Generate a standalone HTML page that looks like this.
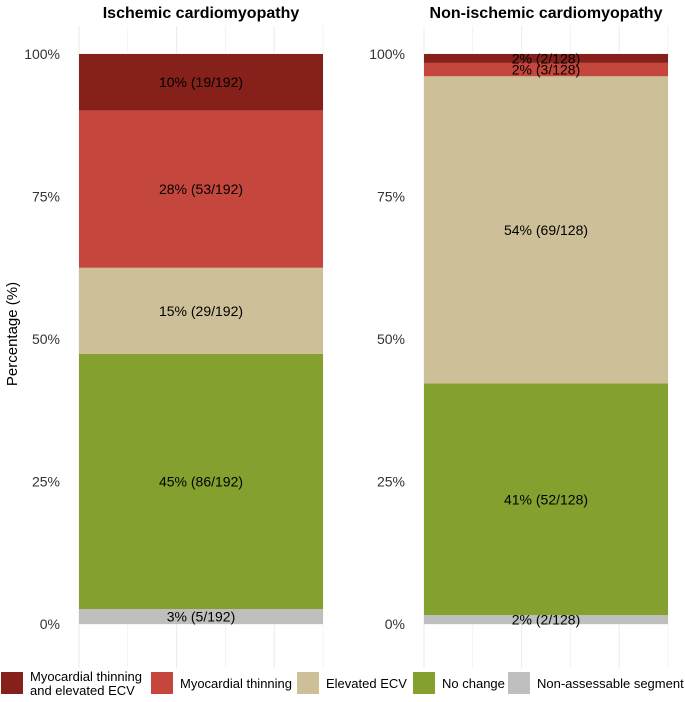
<!DOCTYPE html>
<html><head><meta charset="utf-8"><style>
body{margin:0;background:#fff;font-family:"Liberation Sans",sans-serif}
svg text{font-family:"Liberation Sans",sans-serif}
</style></head><body>
<svg id="chart" width="685" height="697">
<text x="6" y="0" transform="translate(17,340) rotate(-90)" text-anchor="middle" font-size="15" fill="#000">Percentage (%)</text>
<g id="panels"></g>
<g id="legend"></g>
</svg>
<script>
const panelTitles = ["Ischemic cardiomyopathy", "Non-ischemic cardiomyopathy"];
const categories = ["Non-assessable segment", "No change", "Elevated ECV", "Myocardial thinning", "Myocardial thinning and elevated ECV"];
const ischemicCounts = [5, 86, 29, 53, 19];
const nonIschemicCounts = [2, 52, 69, 3, 2];
const yTicks = [0, 25, 50, 75, 100];
const yTickLabels = ["0%", "25%", "50%", "75%", "100%"];
const colors = ["#bfbfbf", "#84a12f", "#cdbf97", "#c5463c", "#85201a"];
const ns = "http://www.w3.org/2000/svg";
const Y0 = 624, Y100 = 54;
const y = v => Y0 - (Y100 - Y0) * -v / 100;
function mk(tag, attrs, parent){const e=document.createElementNS(ns,tag);for(const k in attrs)e.setAttribute(k,attrs[k]);parent.appendChild(e);return e;}
const panelsG = document.getElementById('panels');
const panelX = [[79,323],[424,668]];
const seriesList = [ischemicCounts, nonIschemicCounts];
panelTitles.forEach((t,pi)=>{
  const [x0,x1] = panelX[pi];
  const g = mk('g',{},panelsG);
  
  
  for(let v=0; v<=100; v+=12.5){
    const l = mk('line',{x1:x0,x2:x1,y1:y(v),y2:y(v),stroke:'#ebebeb','stroke-width':v%25===0?1:0.6},g);
    
    
  }
  for(let i=0;i<=5;i++){
    const gx = x0 + (x1-x0)*i/5;
    const l = mk('line',{x1:gx,x2:gx,y1:26,y2:668,stroke:'#ebebeb','stroke-width':i%2===0?1:0.6},g);
    
    
  }
  yTicks.forEach((v,i)=>{
    const tx = mk('text',{x:x0-19,y:y(v)+5,'text-anchor':'end','font-size':14,fill:'#333'},g);
    tx.textContent = yTickLabels[i];
    
    
  });
  const tt = mk('text',{x:(x0+x1)/2,y:18,'text-anchor':'middle','font-size':16,'font-weight':'bold',fill:'#000'},g);
  tt.textContent = t;
  
  
  const counts = seriesList[pi];
  const total = counts.reduce((a,b)=>a+b,0);
  let cum = 0;
  counts.forEach((c,ci)=>{
    const p0 = cum/total*100, p1 = (cum+c)/total*100;
    cum += c;
    const r = mk('rect',{x:x0,y:y(p1),width:x1-x0,height:y(p0)-y(p1),fill:colors[ci]},g);
    
    
    const lb = mk('text',{x:(x0+x1)/2,y:(y(p0)+y(p1))/2+5,'text-anchor':'middle','font-size':14,fill:'#000'},g);
    lb.textContent = Math.round(c/total*100)+'% ('+c+'/'+total+')';
    
    
  });
});
const legendG = document.getElementById('legend');
const legendOrder = [4,3,2,1,0];
const legendKeyX = [1,151,297,413,508];
const legendLabels = [["Myocardial thinning","and elevated ECV"],["Myocardial thinning"],["Elevated ECV"],["No change"],["Non-assessable segment"]];
legendOrder.forEach((ci,i)=>{
  const kx = legendKeyX[i];
  const k = mk('rect',{x:kx,y:672,width:22,height:22,fill:colors[ci]},legendG);
  
  
  const lines = legendLabels[i];
  const t = mk('text',{x:kx+29,'font-size':13,fill:'#000'},legendG);
  
  
  lines.forEach((ln,li)=>{
    const s = mk('tspan',{x:kx+29,y: lines.length>1 ? 681+li*14 : 688},t);
    s.textContent = ln;
  });
});
</script>
</body></html>
